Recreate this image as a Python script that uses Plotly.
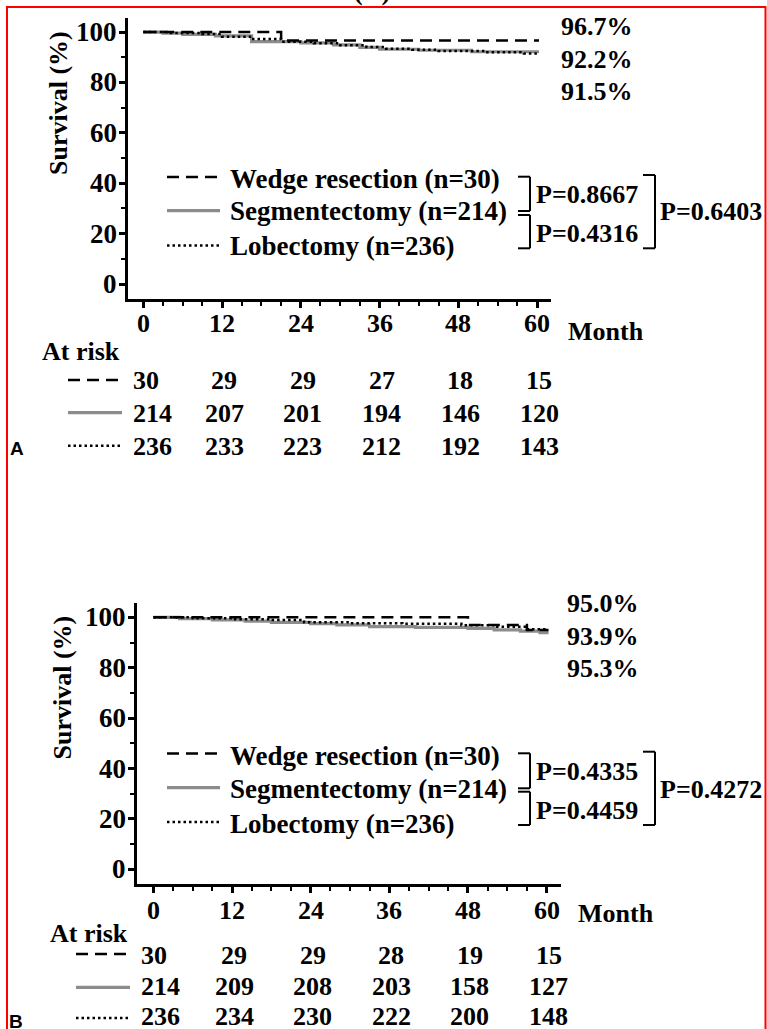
import plotly.graph_objects as go

W, H = 767, 1029
SERIF = "Liberation Serif"
SANS = "Liberation Sans"


def px_x(p):
    return p / W


def px_y(p):
    return 1 - p / H


# ---------------- data ----------------
MONTH_TICKS = [0, 12, 24, 36, 48, 60]
SURV_TICKS = [0, 20, 40, 60, 80, 100]
GROUP_NAMES = ["Wedge resection", "Segmentectomy", "Lobectomy"]
GROUP_N = [30, 214, 236]

# Panel A: Kaplan-Meier steps (months, survival %)
A_wedge_t = [0, 21, 60.3]
A_wedge_s = [100, 96.7, 96.7]
A_seg_t = [0, 3, 6, 11, 16.5, 24, 29, 33, 36, 42, 50, 60.3]
A_seg_s = [100, 99.6, 99.1, 98.5, 96.2, 95.7, 94.9, 93.9, 93.2, 92.8, 92.2, 92.2]
A_lobe_t = [0, 4, 9, 12, 16.5, 21, 26, 30, 34, 37, 41, 45, 52, 58, 60.3]
A_lobe_s = [100, 99.6, 99.2, 98.2, 97.3, 96.2, 95.6, 94.8, 94.1, 93.4, 93.0, 92.5, 92.0, 91.5, 91.5]
A_final = [96.7, 92.2, 91.5]
A_p_pair = [0.8667, 0.4316]
A_p_all = 0.6403
A_risk_wedge = [30, 29, 29, 27, 18, 15]
A_risk_seg = [214, 207, 201, 194, 146, 120]
A_risk_lobe = [236, 233, 223, 212, 192, 143]

# Panel B
B_wedge_t = [0, 48, 57, 60.3]
B_wedge_s = [100, 97.0, 95.0, 95.0]
B_seg_t = [0, 4, 9, 14, 18, 24, 28, 33, 40, 48, 52, 56, 59, 60.3]
B_seg_s = [100, 99.5, 99.0, 98.5, 98.0, 97.5, 97.0, 96.3, 96.0, 95.6, 95.0, 94.5, 93.9, 93.9]
B_lobe_t = [0, 6, 12, 18, 23, 30, 38, 47, 52, 57, 60.3]
B_lobe_s = [100, 99.6, 99.2, 98.9, 98.0, 97.6, 97.4, 96.9, 96.3, 95.3, 95.3]
B_final = [95.0, 93.9, 95.3]
B_p_pair = [0.4335, 0.4459]
B_p_all = 0.4272
B_risk_wedge = [30, 29, 29, 28, 19, 15]
B_risk_seg = [214, 209, 208, 203, 158, 127]
B_risk_lobe = [236, 234, 230, 222, 200, 148]

# ---------------- styles ----------------
LINE_STYLES = [
    dict(color="black", width=2.5, dash="12px,7px"),
    dict(color="#8c8c8c", width=3.2, dash="solid"),
    dict(color="black", width=2.5, dash="2.5px,3px"),
]
FS = 26

panels = [
    dict(
        letter="A", ax="", curves=[(A_wedge_t, A_wedge_s), (A_seg_t, A_seg_s), (A_lobe_t, A_lobe_s)],
        final=A_final, p_pair=A_p_pair, p_all=A_p_all,
        risk=[A_risk_wedge, A_risk_seg, A_risk_lobe],
        box=(128, 550.7, 18, 299), xr=[-2.33, 62.08], yr=[-5.95, 105.6],
        ytitle=(58, 103), final_x=559, final_y=[26.7, 60, 91.7],
        leg_y=[177, 210.7, 245.5], leg_text_y=[179, 211, 246.5],
        br=dict(x_in=530, x_out=655, b1=(176.7, 211), b2=(215, 248.3), outer=(175, 248.3),
                p1_y=195, p2_y=233.3, pall_y=211.7),
        xlab_y=323.3, month_y=331.7, atrisk_y=351.7, row_y=[380, 413, 446],
        row_line_y=[380, 412.7, 445.7],
        row_line_x=(68, 122), first_col_x=131, letter_pos=(17, 448),
    ),
    dict(
        letter="B", ax="2", curves=[(B_wedge_t, B_wedge_s), (B_seg_t, B_seg_s), (B_lobe_t, B_lobe_s)],
        final=B_final, p_pair=B_p_pair, p_all=B_p_all,
        risk=[B_risk_wedge, B_risk_seg, B_risk_lobe],
        box=(137, 561, 602.7, 884.3), xr=[-2.5, 62.2], yr=[-5.95, 105.8],
        ytitle=(62, 687.5), final_x=565, final_y=[603.3, 636.7, 668.3],
        leg_y=[753.5, 787.7, 822], leg_text_y=[756, 788.5, 823.5],
        br=dict(x_in=530, x_out=655, b1=(753.3, 788.3), b2=(791.7, 825), outer=(751.7, 825),
                p1_y=771.7, p2_y=810, pall_y=789.3),
        xlab_y=910, month_y=913.3, atrisk_y=933.3, row_y=[955, 986.7, 1016.5],
        row_line_y=[954, 987.3, 1018],
        row_line_x=(76, 130), first_col_x=139.4, letter_pos=(16, 1021),
    ),
]

fig = go.Figure()
annotations = []
shapes = []


def text(x, y, s, size=FS, xanchor="left", family=SERIF, xref="paper", yref="paper",
         xshift=0, angle=0):
    annotations.append(dict(
        x=x, y=y, xref=xref, yref=yref, text="<b>%s</b>" % s, showarrow=False,
        xanchor=xanchor, yanchor="middle", xshift=xshift, textangle=angle,
        font=dict(family=family, size=size, color="black"),
    ))


def seg_line(x0, y0, x1, y1, color="black", width=2, dash="solid"):
    shapes.append(dict(type="line", xref="paper", yref="paper",
                       x0=px_x(x0), y0=px_y(y0), x1=px_x(x1), y1=px_y(y1),
                       line=dict(color=color, width=width, dash=dash)))


axis_common = dict(
    showline=True, linecolor="black", linewidth=2.5, mirror=False,
    ticks="outside", ticklen=6, tickwidth=2.5, tickcolor="black",
    showgrid=False, zeroline=False, fixedrange=True, showticklabels=False,
)

layout_axes = {}
for p in panels:
    L, R, T, B = p["box"]
    xa, ya = "x" + p["ax"], "y" + p["ax"]
    layout_axes["xaxis" + p["ax"]] = dict(
        axis_common, domain=[px_x(L), px_x(R)], range=p["xr"], anchor=ya,
        tickmode="array", tickvals=MONTH_TICKS,
        minor=dict(tickmode="linear", tick0=0, dtick=3, ticks="outside", ticklen=4,
                   tickwidth=2, tickcolor="black"),
    )
    layout_axes["yaxis" + p["ax"]] = dict(
        axis_common, domain=[px_y(B), px_y(T)], range=p["yr"], anchor=xa,
        tickmode="array", tickvals=SURV_TICKS,
        minor=dict(tickmode="linear", tick0=0, dtick=10, ticks="outside", ticklen=4,
                   tickwidth=2, tickcolor="black"),
    )

    # survival curves (grey segmentectomy underneath)
    for i in [1, 2, 0]:
        t, s = p["curves"][i]
        fig.add_trace(go.Scatter(
            x=t, y=s, mode="lines", line_shape="hv", line=LINE_STYLES[i],
            xaxis=xa, yaxis=ya, showlegend=False, hoverinfo="skip",
        ))

    # tick labels placed on the axis scales
    for v in SURV_TICKS:
        text(px_x(L - 9), v, str(v), size=27, xanchor="right", yref=ya)
    for m in MONTH_TICKS:
        text(m, px_y(p["xlab_y"]), str(m), xanchor="center", xref=xa)

    # y-axis title
    text(px_x(p["ytitle"][0]), px_y(p["ytitle"][1]), "Survival (%)", xanchor="center", angle=-90)

    # survival at 60 months
    for v, yy in zip(p["final"], p["final_y"]):
        text(px_x(p["final_x"]), px_y(yy), "%.1f%%" % v)

    # legend keys and labels
    for i in range(3):
        seg_line(167, p["leg_y"][i], 220, p["leg_y"][i], color=LINE_STYLES[i]["color"],
                 width=LINE_STYLES[i]["width"], dash=LINE_STYLES[i]["dash"])
        text(px_x(228), px_y(p["leg_text_y"][i]), "%s (n=%d)" % (GROUP_NAMES[i], GROUP_N[i]),
             size=27)

    # comparison brackets and log-rank P values
    br = p["br"]
    xi, xo = br["x_in"], br["x_out"]
    for (y0, y1) in (br["b1"], br["b2"]):
        seg_line(xi - 12, y0, xi, y0)
        seg_line(xi, y0, xi, y1)
        seg_line(xi - 12, y1, xi, y1)
    y0, y1 = br["outer"]
    seg_line(xo - 12, y0, xo, y0)
    seg_line(xo, y0, xo, y1)
    seg_line(xo - 12, y1, xo, y1)
    text(px_x(xi + 4), px_y(br["p1_y"]), "P=%.4f" % p["p_pair"][0])
    text(px_x(xi + 4), px_y(br["p2_y"]), "P=%.4f" % p["p_pair"][1])
    text(px_x(xo + 3), px_y(br["pall_y"]), "P=%.4f" % p["p_all"])

    # axis unit
    text(px_x(R + 15), px_y(p["month_y"]), "Month")

    # numbers at risk
    text(px_x(p["first_col_x"] - 91), px_y(p["atrisk_y"]), "At risk")
    for i in range(3):
        x0, x1 = p["row_line_x"]
        seg_line(x0, p["row_line_y"][i], x1, p["row_line_y"][i], color=LINE_STYLES[i]["color"],
                 width=LINE_STYLES[i]["width"], dash=LINE_STYLES[i]["dash"])
        row = p["risk"][i]
        text(px_x(p["first_col_x"]), px_y(p["row_y"][i]), str(row[0]))
        for m, n in zip(MONTH_TICKS[1:], row[1:]):
            text(m, px_y(p["row_y"][i]), str(n), xanchor="center", xref=xa, xshift=2)

    # panel letter
    text(px_x(p["letter_pos"][0]), px_y(p["letter_pos"][1]), p["letter"], size=19,
         xanchor="center", family=SANS)

# panel heading, mostly above the frame
text(px_x(372), px_y(-8), "(A)", xanchor="center")

# red frame
shapes.append(dict(type="rect", xref="paper", yref="paper",
                   x0=px_x(7), x1=px_x(765.5), y0=px_y(1040), y1=px_y(7),
                   line=dict(color="#ff0000", width=2), fillcolor="rgba(0,0,0,0)"))

fig.update_layout(
    width=W, height=H, margin=dict(l=0, r=0, t=0, b=0),
    paper_bgcolor="white", plot_bgcolor="white",
    annotations=annotations, shapes=shapes, showlegend=False,
    **layout_axes,
)

fig.write_html("out.html")
